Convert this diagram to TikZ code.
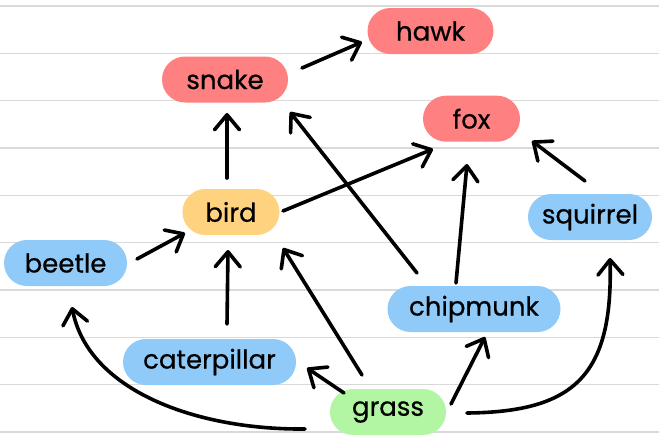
\documentclass[tikz,border=0pt]{standalone}
\usepackage{fontspec}
\setmainfont{Poppins}[FakeBold=0.6]
\usetikzlibrary{arrows.meta}
\definecolor{cRed}{RGB}{255,128,128}
\definecolor{cOrange}{RGB}{255,210,128}
\definecolor{cBlue}{RGB}{144,202,249}
\definecolor{cGreen}{RGB}{178,245,163}
\definecolor{cRule}{RGB}{217,217,217}
\tikzset{
  pill/.style={rounded corners=23pt, minimum height=46pt, inner sep=0pt,
    font=\fontsize{26}{28}\selectfont, text=black},
  redpill/.style={pill, fill=cRed},
  orangepill/.style={pill, fill=cOrange},
  bluepill/.style={pill, fill=cBlue},
  greenpill/.style={pill, fill=cGreen},
  rule/.style={draw=cRule, line width=1.5pt},
  arr/.style={draw=black, line width=3.6pt, line cap=round, line join=round,
    -{Straight Barb[length=15pt,width=25pt,round]}},
}
\begin{document}
\begin{tikzpicture}[x=1pt,y=-1pt]
\useasboundingbox (0,0) rectangle (659,437);
\fill[white] (0,0) rectangle (659,437);
\foreach \k in {0,...,9} \draw[rule] (0,{6+47.33*\k}) -- (659,{6+47.33*\k});

\node[redpill, minimum width=126pt] (snake) at (225,79.5) {snake};
\node[redpill, minimum width=126pt] (hawk) at (430.5,31) {hawk};
\node[redpill, minimum width=97pt] (fox) at (471.5,118.7) {fox};
\node[orangepill, minimum width=97pt] (bird) at (231,212) {bird};
\node[bluepill, minimum width=123pt] (beetle) at (65.5,263) {beetle};
\node[bluepill, minimum width=173pt] (caterpillar) at (209.5,362) {caterpillar};
\node[bluepill, minimum width=173pt] (chipmunk) at (474,309) {chipmunk};
\node[greenpill, minimum width=116pt] (grass) at (388,412) {grass};
\node[bluepill, minimum width=124pt] (squirrel) at (590,217) {squirrel};

\draw[arr] ([shift={(77,-11.5)}]snake.center) -- ([shift={(-68.5,11)}]hawk.center);
\draw[arr] ([shift={(-4,-34)}]bird.center) -- ([shift={(2,33.5)}]snake.center);
\draw[arr] ([shift={(-57,-36)}]chipmunk.center) -- ([shift={(65,32.5)}]snake.center);
\draw[arr] ([shift={(52,-1)}]bird.center) -- ([shift={(-38.5,30.3)}]fox.center);
\draw[arr] ([shift={(-18,-26)}]chipmunk.center) -- ([shift={(-4.5,45.3)}]fox.center);
\draw[arr] ([shift={(-5,-36)}]squirrel.center) -- ([shift={(60.5,22.3)}]fox.center);
\draw[arr] ([shift={(71.5,-4)}]beetle.center) -- ([shift={(-46,21)}]bird.center);
\draw[arr] ([shift={(17.5,-38)}]caterpillar.center) -- ([shift={(-3,38)}]bird.center);
\draw[arr] ([shift={(-26,-37)}]grass.center) -- ([shift={(52,36)}]bird.center);
\draw[arr] ([shift={(-44,-19)}]grass.center) -- ([shift={(97.5,6)}]caterpillar.center);
\draw[arr] ([shift={(63,-8)}]grass.center) -- ([shift={(11,28)}]chipmunk.center);
\draw[arr] ([shift={(79,1)}]grass.center) .. controls +(108,-1) and +(3,117) .. ([shift={(20,41)}]squirrel.center);
\draw[arr] ([shift={(-83,17)}]grass.center) .. controls +(-110,1) and +(16,83) .. ([shift={(6.5,44)}]beetle.center);
\end{tikzpicture}
\end{document}
